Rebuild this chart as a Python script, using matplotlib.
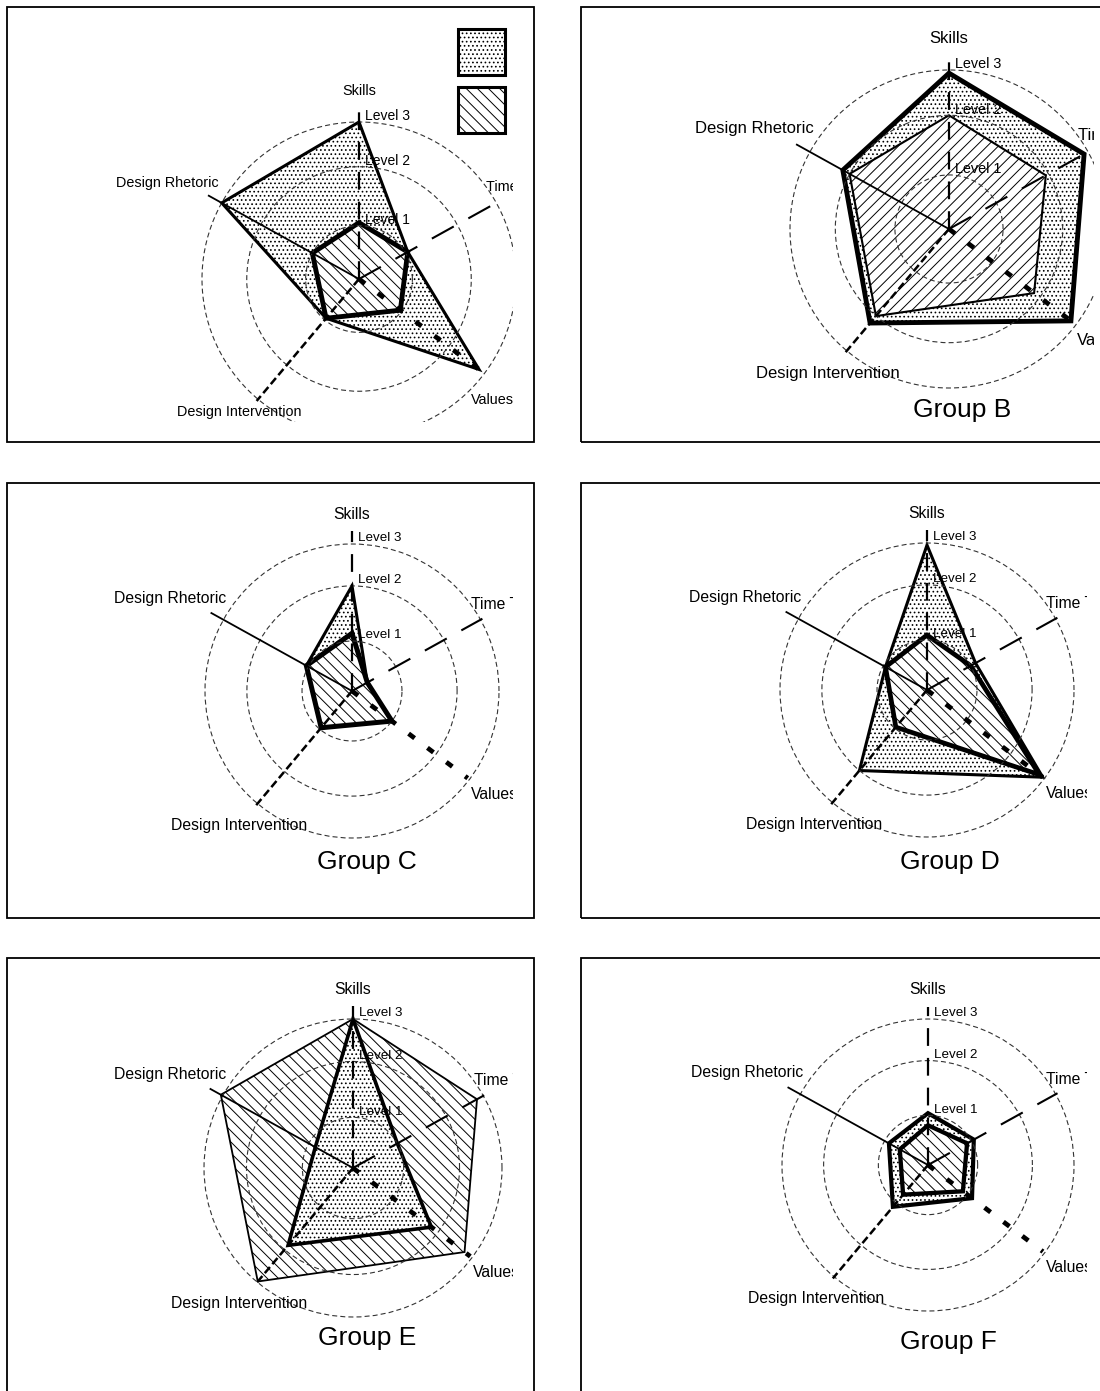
import numpy as np
import matplotlib
matplotlib.use('Agg')
import matplotlib.pyplot as plt
from matplotlib.patches import Rectangle

plt.rcParams['font.family'] = ['Liberation Sans', 'DejaVu Sans']
plt.rcParams['hatch.linewidth'] = 0.7
plt.rcParams['hatch.color'] = 'black'

W, H = 1100, 1391

# ---- data -------------------------------------------------------------
axis_names = ['Skills', 'Time T', 'Values', 'Design Intervention', 'Design Rhetoric']
axis_angles = [90, 29, -37, -130, 151]          # degrees, counter-clockwise from east
level_names = ['Level 1', 'Level 2', 'Level 3']
levels = [1, 2, 3]
group_names = ['', 'Group B', 'Group C', 'Group D', 'Group E', 'Group F']

# values per axis (Skills, Time, Values, Design Intervention, Design Rhetoric)
dotted_a = [3.0, 1.04, 2.85, 0.96, 3.0]
hatched_a = [1.05, 1.04, 0.97, 0.96, 1.0]
dotted_b = [2.93, 2.9, 2.86, 2.2, 2.17]
hatched_b = [2.0, 1.95, 1.88, 2.0, 2.0]
dotted_c = [2.0, 0.35, 1.0, 0.96, 1.04]
hatched_c = [1.14, 0.35, 1.0, 0.96, 1.04]
dotted_d = [2.95, 1.1, 2.95, 2.0, 0.95]
hatched_d = [1.09, 1.0, 2.85, 0.97, 0.95]
dotted_e = [3.0, 1.0, 1.85, 1.9, 0.85]
hatched_e = [3.0, 2.83, 2.78, 2.98, 3.05]
dotted_f = [1.04, 1.05, 1.1, 1.09, 0.9]
hatched_f = [0.8, 0.9, 0.88, 0.78, 0.65]

dotted = [dotted_a, dotted_b, dotted_c, dotted_d, dotted_e, dotted_f]
hatched = [hatched_a, hatched_b, hatched_c, hatched_d, hatched_e, hatched_f]

# ring radius of each level as a fraction of the outer ring (rings are not evenly spaced)
level_steps = [0, 1, 2, 3, 4]
ring_frac = [0, 0.34, 0.715, 1.0, 1.285]

def fwd(r):
    return np.interp(r, level_steps, ring_frac)

def inv(f):
    return np.interp(f, ring_frac, level_steps)

# ---- layout (pixels) ----------------------------------------------------
panels = [
    dict(center=(359, 279), R=157, frame=(7, 7, 534, 442), clip=(7, 7, 513, 422),
         label=None, name_fs=10.4, level_fs=10.0, lw=(2.2, 3.5), hatch='\\\\\\',
         name_override={'Values': (-47, 1.05), 'Design Intervention': (-132, 1.14),
                        'Design Rhetoric': (145.6, 1.08)}),
    dict(center=(949, 229), R=159, frame=(581, 7, 1108, 442), clip=(581, 7, 1094, 441),
         label=(962, 410), name_fs=12.0, level_fs=10.4, lw=(3.5, 1.5), hatch='///'),
    dict(center=(352, 691), R=147, frame=(7, 483, 534, 918), clip=(7, 483, 513, 917),
         label=(367, 862), name_fs=11.3, level_fs=9.6, lw=(2.2, 3.6), hatch='\\\\\\'),
    dict(center=(927, 690), R=147, frame=(581, 483, 1108, 918), clip=(581, 483, 1087, 917),
         label=(950, 862), name_fs=11.3, level_fs=9.6, lw=(2.2, 3.4), hatch='\\\\\\'),
    dict(center=(353, 1168), R=149, frame=(7, 958, 534, 1395), clip=(7, 958, 513, 1391),
         label=(367, 1338), name_fs=11.3, level_fs=9.6, lw=(2.6, 1.3), hatch='\\\\\\'),
    dict(center=(928, 1165), R=146, frame=(581, 958, 1108, 1395), clip=(581, 958, 1087, 1391),
         label=(948, 1342), name_fs=11.3, level_fs=9.6, lw=(3.0, 3.1), hatch='\\\\\\'),
]

# axis line styles: (reach in levels, linewidth, dash pattern)
axis_styles = [
    (3.3, 1.6, (0, (8, 5.4))),
    (3.05, 1.5, (0, (12, 8))),
    (2.95, 3.4, (0, (1.6, 3.4))),
    (3.05, 1.8, (0, (3.2, 1.5))),
    (3.35, 1.3, '-'),
]
# axis name anchors: (angle deg, radius as fraction of outer ring, ha)
name_pos = [(90, 1.20, 'center'), (36, 1.0, 'left'), (-41, 1.07, 'left'),
            (-130, 1.19, 'center'), (143.5, 1.06, 'right')]


def fig_rect(x0, y0, x1, y1, **kw):
    return Rectangle((x0 / W, 1 - y1 / H), (x1 - x0) / W, (y1 - y0) / H,
                     transform=fig.transFigure, **kw)


fig = plt.figure(figsize=(W / 100, H / 100), dpi=100)
fig.patch.set_facecolor('white')

theta = np.deg2rad(axis_angles)
theta_closed = np.append(theta, theta[0])

for i, p in enumerate(panels):
    fig.add_artist(fig_rect(*p['frame'], fill=False, edgecolor='black', lw=1.3))
    clip = fig_rect(*p['clip'])

    cx, cy = p['center']
    R = p['R']
    ax = fig.add_axes([(cx - R) / W, 1 - (cy + R) / H, 2 * R / W, 2 * R / H],
                      projection='polar')
    ax.set_rscale('function', functions=(fwd, inv))
    ax.set_facecolor('none')
    ax.spines['polar'].set_visible(False)
    ax.set_xticks([])

    # polygons: larger one underneath
    series = [(dotted[i], '....', p['lw'][0]), (hatched[i], p['hatch'], p['lw'][1])]
    series.sort(key=lambda s: -np.sum(np.square(s[0])))
    for z, (vals, hatch, lw) in enumerate(series):
        r_closed = np.append(vals, vals[0])
        polys = ax.fill(theta_closed, r_closed, facecolor='white', edgecolor='black',
                        hatch=hatch, linewidth=lw, joinstyle='miter', zorder=1 + z * 0.1)
        for poly in polys:
            poly.set_clip_path(clip)

    # axes lines
    for th, (reach, lw, ls) in zip(theta, axis_styles):
        line, = ax.plot([th, th], [0, reach], color='black', lw=lw, linestyle=ls,
                        dash_capstyle='butt', solid_capstyle='butt', zorder=3)
        line.set_clip_path(clip)

    # dashed level rings
    ax.set_rgrids(levels, labels=['', '', ''])
    ax.yaxis.grid(True, color='#333333', linestyle=(0, (4.5, 2.8)), linewidth=0.8)
    ax.set_ylim(0, 3)
    ax.yaxis.set_clip_path(clip)
    for gl in ax.yaxis.get_gridlines():
        gl.set_clip_path(clip)

    for lvl, lname in zip(levels, level_names):
        ax.annotate(lname, xy=(np.pi / 2, lvl), xytext=(4, 4), textcoords='offset points',
                    ha='left', va='center', fontsize=p['level_fs'], annotation_clip=False,
                    zorder=4)

    overrides = p.get('name_override', {})
    for name, (ang, k, ha) in zip(axis_names, name_pos):
        ang, k = overrides.get(name, (ang, k))
        a = np.deg2rad(ang)
        t = ax.text(0.5 + 0.5 * k * np.cos(a), 0.5 + 0.5 * k * np.sin(a), name,
                    transform=ax.transAxes, ha=ha, va='center', fontsize=p['name_fs'],
                    clip_on=True, zorder=4)
        t.set_clip_path(clip)

    if p['label'] is not None:
        lx, ly = p['label']
        fig.text(lx / W, 1 - ly / H, group_names[i], ha='center', va='center', fontsize=19)

# legend swatches in the first panel
fig.add_artist(fig_rect(458, 29, 505, 75, facecolor='white', edgecolor='black',
                        hatch='....', lw=2.2))
fig.add_artist(fig_rect(458, 87, 505, 133, facecolor='white', edgecolor='black',
                        hatch='\\\\\\', lw=2.2))

fig.savefig('out.png', dpi=100, facecolor='white')
